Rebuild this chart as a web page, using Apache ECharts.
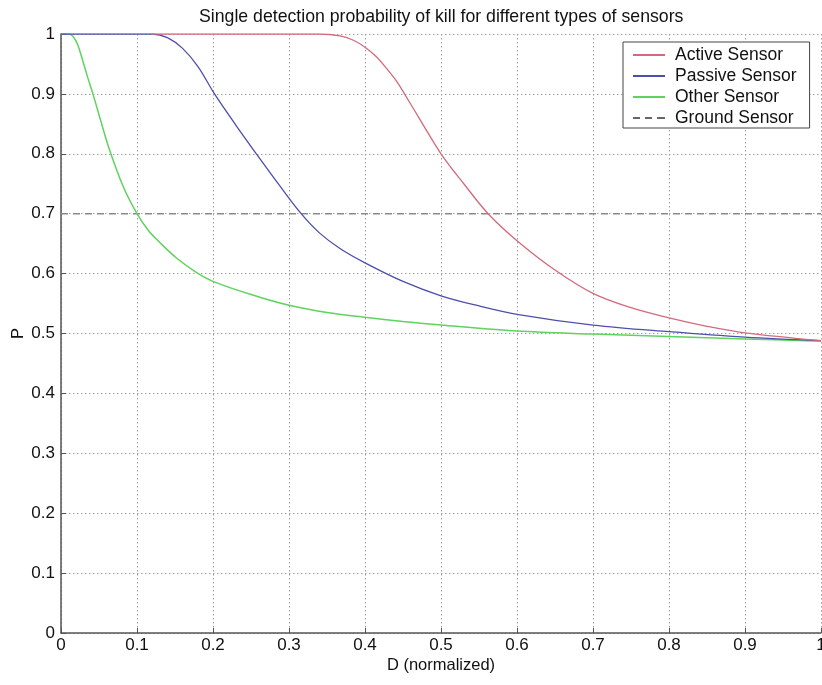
<!DOCTYPE html>
<html>
<head>
<meta charset="utf-8">
<script src="https://cdn.jsdelivr.net/npm/echarts@6/dist/echarts.min.js"></script>
<style>
html,body{margin:0;padding:0;background:#fff;}
#chart{width:822px;height:685px;}
</style>
</head>
<body>
<div id="chart"></div>
<script>
// ---- data ----
var activeX = [0.12, 0.34, 0.367, 0.384, 0.4, 0.415, 0.428, 0.441, 0.452, 0.472, 0.5, 0.53, 0.562, 0.6, 0.65, 0.7, 0.75, 0.8, 0.85, 0.9, 1.0];
var activeY = [1, 1, 0.997, 0.99, 0.978, 0.962, 0.943, 0.922, 0.9, 0.858, 0.8, 0.75, 0.7, 0.655, 0.606, 0.567, 0.543, 0.526, 0.512, 0.501, 0.488];

var passiveX = [0, 0.12, 0.14, 0.16, 0.18, 0.202, 0.23, 0.257, 0.287, 0.316, 0.34, 0.367, 0.4, 0.45, 0.5, 0.55, 0.6, 0.7, 0.8, 0.9, 1.0];
var passiveY = [1, 1, 0.994, 0.976, 0.946, 0.9, 0.848, 0.8, 0.748, 0.7, 0.668, 0.642, 0.618, 0.587, 0.563, 0.546, 0.532, 0.514, 0.503, 0.494, 0.488];

var otherX = [0, 0.01, 0.016, 0.022, 0.028, 0.035, 0.042, 0.053, 0.064, 0.082, 0.1, 0.115, 0.13, 0.152, 0.178, 0.2, 0.25, 0.3, 0.35, 0.4, 0.45, 0.5, 0.6, 0.7, 0.8, 0.9, 1.0];
var otherY = [1, 1, 0.996, 0.982, 0.958, 0.928, 0.9, 0.852, 0.806, 0.745, 0.7, 0.672, 0.652, 0.626, 0.602, 0.587, 0.565, 0.547, 0.535, 0.527, 0.52, 0.514, 0.504, 0.499, 0.495, 0.491, 0.487];

var groundX = [0, 1];
var groundY = [0.7, 0.7];

var seriesNames = ['Active Sensor', 'Passive Sensor', 'Other Sensor', 'Ground Sensor'];
var titleText = 'Single detection probability of kill for different types of sensors';
var xName = 'D (normalized)';
var yName = 'P';

function pairs(xs, ys) { return xs.map(function (x, i) { return [x, ys[i]]; }); }
function fmt(v) { return String(Math.round(v * 10) / 10); }

var FONT = 'Liberation Sans, Arial, sans-serif';
var chart = echarts.init(document.getElementById('chart'), null, { renderer: 'canvas' });

var gridLine = { show: true, lineStyle: { color: '#a0a0a0', type: [1.5, 2.5], width: 1 } };
var solidIcon = 'path://M0,0h32v2h-32z';
var dashIcon = 'path://M0,0h7v2h-7z M12,0h7v2h-7z M24,0h8v2h-8z';
var colors = ['#d26a7c', '#4e4eac', '#5fd35f', '#8a8a8a'];

chart.setOption({
  animation: false,
  backgroundColor: '#fff',
  title: {
    text: titleText, left: 194, top: 3,
    textStyle: { fontFamily: FONT, fontSize: 17.7, fontWeight: 'normal', color: '#111' }
  },
  legend: {
    orient: 'vertical', left: 623, top: 42,
    data: [
      { name: seriesNames[0], icon: solidIcon, itemStyle: { color: colors[0] } },
      { name: seriesNames[1], icon: solidIcon, itemStyle: { color: colors[1] } },
      { name: seriesNames[2], icon: solidIcon, itemStyle: { color: colors[2] } },
      { name: seriesNames[3], icon: dashIcon, itemStyle: { color: '#666' } }
    ],
    backgroundColor: '#fff', borderColor: '#444', borderWidth: 1,
    padding: [4, 13, 1, 10],
    itemWidth: 32, itemHeight: 2, itemGap: 3,
    textStyle: { fontFamily: FONT, fontSize: 17.5, color: '#111', padding: [0, 0, 0, 5] }
  },
  grid: { left: 61, right: 1, top: 34, bottom: 52, containLabel: false, outerBoundsMode: 'none' },
  xAxis: {
    type: 'value', min: 0, max: 1, interval: 0.1,
    name: xName, nameLocation: 'middle', nameGap: 24, nameMoveOverlap: false,
    nameTextStyle: { fontFamily: FONT, fontSize: 16.5, color: '#111' },
    axisLine: { show: true, onZero: false, lineStyle: { color: '#555', width: 1.5 } },
    axisTick: { show: true, inside: true, length: 5, lineStyle: { color: '#555' } },
    axisLabel: { fontFamily: FONT, fontSize: 17, color: '#111', margin: 4, formatter: fmt, hideOverlap: false },
    splitLine: gridLine
  },
  yAxis: {
    type: 'value', min: 0, max: 1, interval: 0.1,
    name: yName, nameLocation: 'middle', nameGap: 34, nameRotate: 90, nameMoveOverlap: false,
    nameTextStyle: { fontFamily: FONT, fontSize: 16.5, color: '#111' },
    axisLine: { show: true, onZero: false, lineStyle: { color: '#555', width: 1.5 } },
    axisTick: { show: true, inside: true, length: 5, lineStyle: { color: '#555' } },
    axisLabel: { fontFamily: FONT, fontSize: 17, color: '#111', margin: 6, formatter: fmt, hideOverlap: false },
    splitLine: gridLine
  },
  series: [
    { name: seriesNames[0], type: 'line', data: pairs(activeX, activeY), symbol: 'none', smooth: 0.35, z: 4,
      lineStyle: { color: colors[0], width: 1.3 }, itemStyle: { color: colors[0] } },
    { name: seriesNames[1], type: 'line', data: pairs(passiveX, passiveY), symbol: 'none', smooth: 0.35, z: 3,
      lineStyle: { color: colors[1], width: 1.3 }, itemStyle: { color: colors[1] } },
    { name: seriesNames[2], type: 'line', data: pairs(otherX, otherY), symbol: 'none', smooth: 0.35, z: 2,
      lineStyle: { color: colors[2], width: 1.5 }, itemStyle: { color: colors[2] } },
    { name: seriesNames[3], type: 'line', data: pairs(groundX, groundY), symbol: 'none', z: 1,
      lineStyle: { color: colors[3], width: 1.5, type: [7, 5] }, itemStyle: { color: colors[3] } }
  ]
});
</script>
</body>
</html>
